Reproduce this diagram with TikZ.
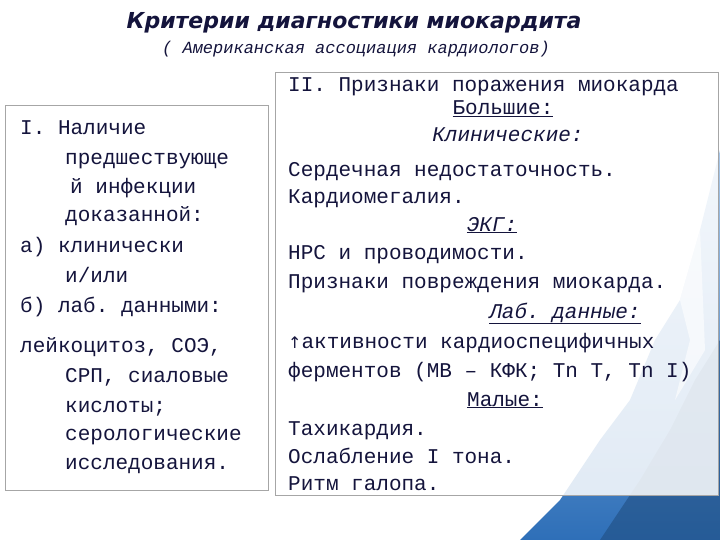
\documentclass[tikz,border=0pt]{standalone}
\usepackage{fontspec}
\setmonofont{Liberation Mono}
\setsansfont{DejaVu Sans}
\definecolor{ink}{HTML}{14143C}
\definecolor{mtn}{HTML}{2E6FB8}
\definecolor{mtnl}{HTML}{A9C8EA}
\tikzset{
 tx/.style={anchor=base west,inner sep=0pt,font=\ttfamily\fontsize{21}{21}\selectfont,text=ink},
 txc/.style={anchor=base,inner sep=0pt,font=\ttfamily\fontsize{21}{21}\selectfont,text=ink},
 panel/.style={draw=gray!70,fill=white,fill opacity=0.85,line width=0.6pt}
}
\begin{document}
\begin{tikzpicture}[x=1pt,y=-1pt]
\useasboundingbox (0,0) rectangle (720,540);
\fill[white] (0,0) rectangle (720,540);
% mountains
\shade[top color=mtnl,bottom color=mtn] (520,540) -- (560,500) -- (600,440) -- (630,400) -- (655,340) -- (680,300) -- (700,230) -- (720,150) -- (720,540) -- cycle;
\fill[mtn!70!black,opacity=0.6] (600,540) -- (640,480) -- (670,430) -- (695,380) -- (720,340) -- (720,540) -- cycle;
\fill[white,opacity=0.6] (680,300) -- (690,340) -- (675,400) -- (705,350) -- (700,230) -- cycle;
% title
\node[anchor=base,inner sep=0pt,font=\sffamily\bfseries\itshape\fontsize{22}{22}\selectfont,text=ink] (title) at (354,29) {Критерии диагностики миокардита};
\node[anchor=base,inner sep=0pt,font=\ttfamily\itshape\fontsize{17}{17}\selectfont,text=ink] (sub) at (356,54) {( Американская ассоциация кардиологов)};
% panels
\node[panel,minimum width=263,minimum height=385,anchor=north west] (lp) at (5,105) {};
\node[panel,minimum width=443,minimum height=423,anchor=north west] (rp) at (275,72) {};
% left text
\node[tx] (l1) at (20,135) {I. Наличие};
\node[tx] (l2) at (65,165) {предшествующе};
\node[tx] (l3) at (70,194) {й инфекции};
\node[tx] (l4) at (65,222) {доказанной:};
\node[tx] (l5) at (20,252) {а) клинически};
\node[tx] (l6) at (65,282) {и/или};
\node[tx] (l7) at (20,312) {б) лаб. данными:};
\node[tx] (l8) at (20,352) {лейкоцитоз,  СОЭ,};
\node[tx] (l9) at (65,382) {СРП, сиаловые};
\node[tx] (l10) at (65,412) {кислоты;};
\node[tx] (l11) at (65,440) {серологические};
\node[tx] (l12) at (65,469) {исследования.};
% right text
\node[tx] (r1) at (288,92) {II. Признаки поражения миокарда};
\node[txc] (r2) at (503,115) {\underline{Большие:}};
\node[txc] (r3) at (508,142) {\itshape Клинические:};
\node[tx] (r4) at (288,177) {Сердечная недостаточность.};
\node[tx] (r5) at (288,204) {Кардиомегалия.};
\node[txc] (r6) at (492,231) {\itshape\underline{ЭКГ:}};
\node[tx] (r7) at (288,259) {НРС и проводимости.};
\node[tx] (r8) at (288,288) {Признаки повреждения миокарда.};
\node[txc] (r9) at (565,318) {\itshape\underline{Лаб. данные:}};
\node[tx] (r10) at (288,348) {{\fontspec{DejaVu Sans}\fontsize{16}{16}\selectfont↑}активности кардиоспецифичных};
\node[tx] (r11) at (288,377) {ферментов (MB – КФК; Tn T, Tn I)};
\node[txc] (r12) at (505,406) {\underline{Малые:}};
\node[tx] (r13) at (288,435) {Тахикардия.};
\node[tx] (r14) at (288,463) {Ослабление I тона.};
\node[tx] (r15) at (288,490) {Ритм галопа.};
\end{tikzpicture}
\end{document}
